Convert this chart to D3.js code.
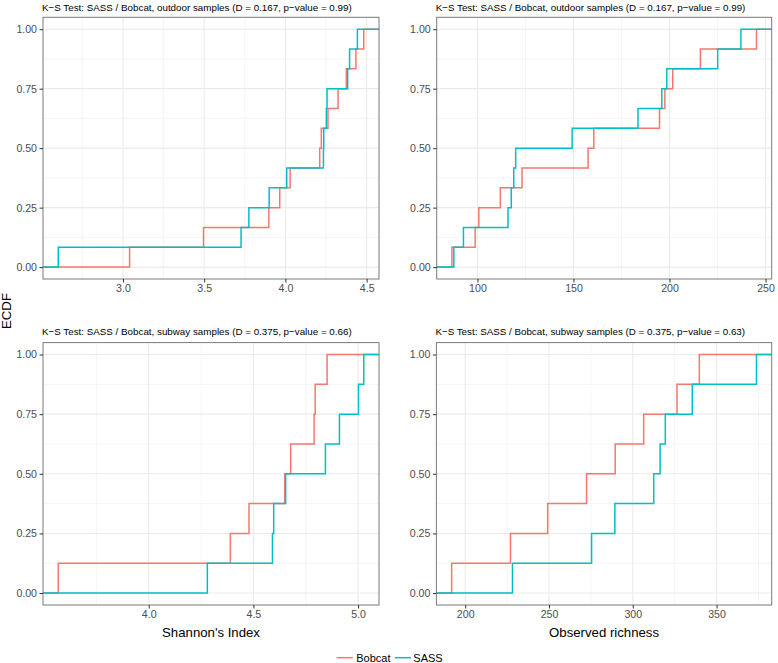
<!DOCTYPE html>
<html>
<head>
<meta charset="utf-8">
<script src="https://cdn.jsdelivr.net/npm/d3@7"></script>
<style>
  html, body { margin: 0; padding: 0; background: #fff; }
  svg { display: block; font-family: "Liberation Sans", Arial, Helvetica, sans-serif; }
</style>
</head>
<body>
<svg id="chart" width="778" height="663"></svg>
<script>
// ---------------- data ----------------
const groups = ["Bobcat", "SASS"];
const groupColors = ["#F8766D", "#00BFC4"];

const panelTitles = [
  "K\u2212S Test: SASS / Bobcat, outdoor samples (D = 0.167, p\u2212value = 0.99)",
  "K\u2212S Test: SASS / Bobcat, outdoor samples (D = 0.167, p\u2212value = 0.99)",
  "K\u2212S Test: SASS / Bobcat, subway samples (D = 0.375, p\u2212value = 0.66)",
  "K\u2212S Test: SASS / Bobcat, subway samples (D = 0.375, p\u2212value = 0.63)"
];
const xAxisTitles = ["Shannon's Index", "Observed richness"];
const yAxisTitle = "ECDF";

// outdoor, Shannon's index (n = 12 each)
const outdoorShannonBobcat = [3.041, 3.496, 3.898, 3.965, 4.029, 4.211, 4.221, 4.262, 4.324, 4.375, 4.434, 4.482];
const outdoorShannonSASS   = [2.602, 3.727, 3.775, 3.900, 4.008, 4.234, 4.236, 4.252, 4.256, 4.383, 4.395, 4.443];
// outdoor, observed richness (n = 12 each)
const outdoorRichnessBobcat = [86.7, 98.8, 100.7, 111.9, 123.2, 157.6, 160.6, 194.8, 197.6, 201.7, 216.1, 245.3];
const outdoorRichnessSASS   = [87.7, 92.7, 115.9, 117.6, 118.9, 119.9, 149.3, 183.6, 196.0, 198.6, 225.1, 237.2];
// subway, Shannon's index (n = 8 each)
const subwayShannonBobcat = [3.568, 4.390, 4.479, 4.650, 4.678, 4.790, 4.795, 4.852];
const subwayShannonSASS   = [4.280, 4.591, 4.597, 4.654, 4.844, 4.911, 5.002, 5.027];
// subway, observed richness (n = 8 each)
const subwayRichnessBobcat = [191.9, 227.0, 249.2, 272.4, 289.5, 306.5, 326.4, 339.7];
const subwayRichnessSASS   = [228.2, 275.4, 289.3, 312.5, 316.3, 319.4, 335.5, 373.8];

// tick values / labels
const xTicks = [
  [3.0, 3.5, 4.0, 4.5],
  [100, 150, 200, 250],
  [4.0, 4.5, 5.0],
  [200, 250, 300, 350]
];
const xTickFormats = [".1f", "d", ".1f", "d"];
const yTicks = [0, 0.25, 0.5, 0.75, 1];
const yTickLabels = ["0.00", "0.25", "0.50", "0.75", "1.00"];

const panelSeries = [
  [outdoorShannonBobcat, outdoorShannonSASS],
  [outdoorRichnessBobcat, outdoorRichnessSASS],
  [subwayShannonBobcat, subwayShannonSASS],
  [subwayRichnessBobcat, subwayRichnessSASS]
];

// ---------------- layout ----------------
const panelBoxes = [
  {x0: 43,  x1: 379,   y0: 17.3,  y1: 279, ty: 10.5},
  {x0: 436.7, x1: 771.7, y0: 17.3, y1: 279, ty: 10.5},
  {x0: 43,  x1: 379,   y0: 342.6, y1: 605, ty: 334.8},
  {x0: 436.4, x1: 771.7, y0: 342.6, y1: 605, ty: 334.8}
];

const svg = d3.select("#chart");
const textColor = "#4d4d4d";

panelBoxes.forEach((b, i) => {
  const series = panelSeries[i];
  const all = series.flat();
  const ext = d3.extent(all);
  const pad = (ext[1] - ext[0]) * 0.05;
  const x = d3.scaleLinear().domain([ext[0] - pad, ext[1] + pad]).range([b.x0, b.x1]);
  const y = d3.scaleLinear().domain([-0.05, 1.05]).range([b.y1, b.y0]);

  const g = svg.append("g");
  const clipId = "clip" + i;
  svg.append("clipPath").attr("id", clipId)
    .append("rect").attr("x", b.x0).attr("y", b.y0)
    .attr("width", b.x1 - b.x0).attr("height", b.y1 - b.y0);

  // grid
  const maj = xTicks[i];
  const step = maj[1] - maj[0];
  const ext2 = [maj[0] - step].concat(maj, [maj[maj.length - 1] + step]);
  const xMinor = [];
  for (let k = 0; k < ext2.length - 1; k++) xMinor.push((ext2[k] + ext2[k + 1]) / 2);
  const dom = x.domain();
  const xMinorIn = xMinor.filter(v => v > dom[0] && v < dom[1]);
  const yMinor = [0.125, 0.375, 0.625, 0.875];

  const grid = g.append("g");
  grid.selectAll(".xmin").data(xMinorIn).enter().append("line")
    .attr("x1", d => x(d)).attr("x2", d => x(d)).attr("y1", b.y0).attr("y2", b.y1)
    .attr("stroke", "#f2f2f2").attr("stroke-width", 0.8);
  grid.selectAll(".ymin").data(yMinor).enter().append("line")
    .attr("y1", d => y(d)).attr("y2", d => y(d)).attr("x1", b.x0).attr("x2", b.x1)
    .attr("stroke", "#f2f2f2").attr("stroke-width", 0.8);
  grid.selectAll(".xmaj").data(maj).enter().append("line")
    .attr("x1", d => x(d)).attr("x2", d => x(d)).attr("y1", b.y0).attr("y2", b.y1)
    .attr("stroke", "#ebebeb").attr("stroke-width", 1.1);
  grid.selectAll(".ymaj").data(yTicks).enter().append("line")
    .attr("y1", d => y(d)).attr("y2", d => y(d)).attr("x1", b.x0).attr("x2", b.x1)
    .attr("stroke", "#ebebeb").attr("stroke-width", 1.1);

  // ECDF lines
  const line = d3.line().x(d => x(d[0])).y(d => y(d[1])).curve(d3.curveStepAfter);
  series.forEach((vals, s) => {
    const sorted = vals.slice().sort((a, c) => a - c);
    const n = sorted.length;
    const pts = [[dom[0] - 1, 0]];
    sorted.forEach((v, k) => pts.push([v, (k + 1) / n]));
    pts.push([dom[1] + 1, 1]);
    g.append("path").datum(pts)
      .attr("clip-path", `url(#${clipId})`)
      .attr("d", line)
      .attr("fill", "none")
      .attr("stroke", groupColors[s])
      .attr("stroke-width", 1.5);
  });

  // border
  g.append("rect").attr("x", b.x0).attr("y", b.y0)
    .attr("width", b.x1 - b.x0).attr("height", b.y1 - b.y0)
    .attr("fill", "none").attr("stroke", "#7a7a7a").attr("stroke-width", 1);

  // axes
  const xAxis = d3.axisBottom(x).tickValues(maj).tickFormat(d3.format(xTickFormats[i]))
    .tickSizeInner(3.5).tickSizeOuter(0).tickPadding(2);
  const xa = g.append("g").attr("transform", `translate(0,${b.y1})`).call(xAxis);
  xa.select(".domain").remove();
  xa.selectAll(".tick line").attr("stroke", "#333").attr("stroke-width", 1);
  xa.selectAll(".tick text").attr("fill", textColor).attr("font-size", 10.6)
    .attr("font-family", "Liberation Sans, Arial, sans-serif");

  const yAxis = d3.axisLeft(y).tickValues(yTicks).tickFormat((d, k) => yTickLabels[k])
    .tickSizeInner(3.5).tickSizeOuter(0).tickPadding(2.5);
  const ya = g.append("g").attr("transform", `translate(${b.x0},0)`).call(yAxis);
  ya.select(".domain").remove();
  ya.selectAll(".tick line").attr("stroke", "#333").attr("stroke-width", 1);
  ya.selectAll(".tick text").attr("fill", textColor).attr("font-size", 10.6)
    .attr("font-family", "Liberation Sans, Arial, sans-serif");

  // panel title
  g.append("text").attr("x", b.x0 - 1).attr("y", b.ty)
    .attr("font-size", 9.8).attr("fill", "#000")
    .text(panelTitles[i]);
});

// x axis titles
[0, 1].forEach(k => {
  const b = panelBoxes[2 + k];
  svg.append("text")
    .attr("x", (b.x0 + b.x1) / 2).attr("y", 636.5)
    .attr("text-anchor", "middle").attr("font-size", 13.2).attr("fill", "#000")
    .text(xAxisTitles[k]);
});

// y axis title
svg.append("text")
  .attr("transform", `translate(11.3,${(17 + 605) / 2}) rotate(-90)`)
  .attr("text-anchor", "middle").attr("font-size", 13.2).attr("fill", "#000")
  .text(yAxisTitle);

// legend
const legendItems = [
  {lx: 336.7, tx: 356.2},
  {lx: 395, tx: 413.3}
];
const legY = 657.7;
groups.forEach((name, k) => {
  const it = legendItems[k];
  svg.append("line").attr("x1", it.lx).attr("x2", it.lx + 16)
    .attr("y1", legY).attr("y2", legY)
    .attr("stroke", groupColors[k]).attr("stroke-width", 1.5);
  svg.append("text").attr("x", it.tx).attr("y", legY + 3.9)
    .attr("font-size", 11).attr("fill", "#000").text(name);
});
</script>
</body>
</html>
